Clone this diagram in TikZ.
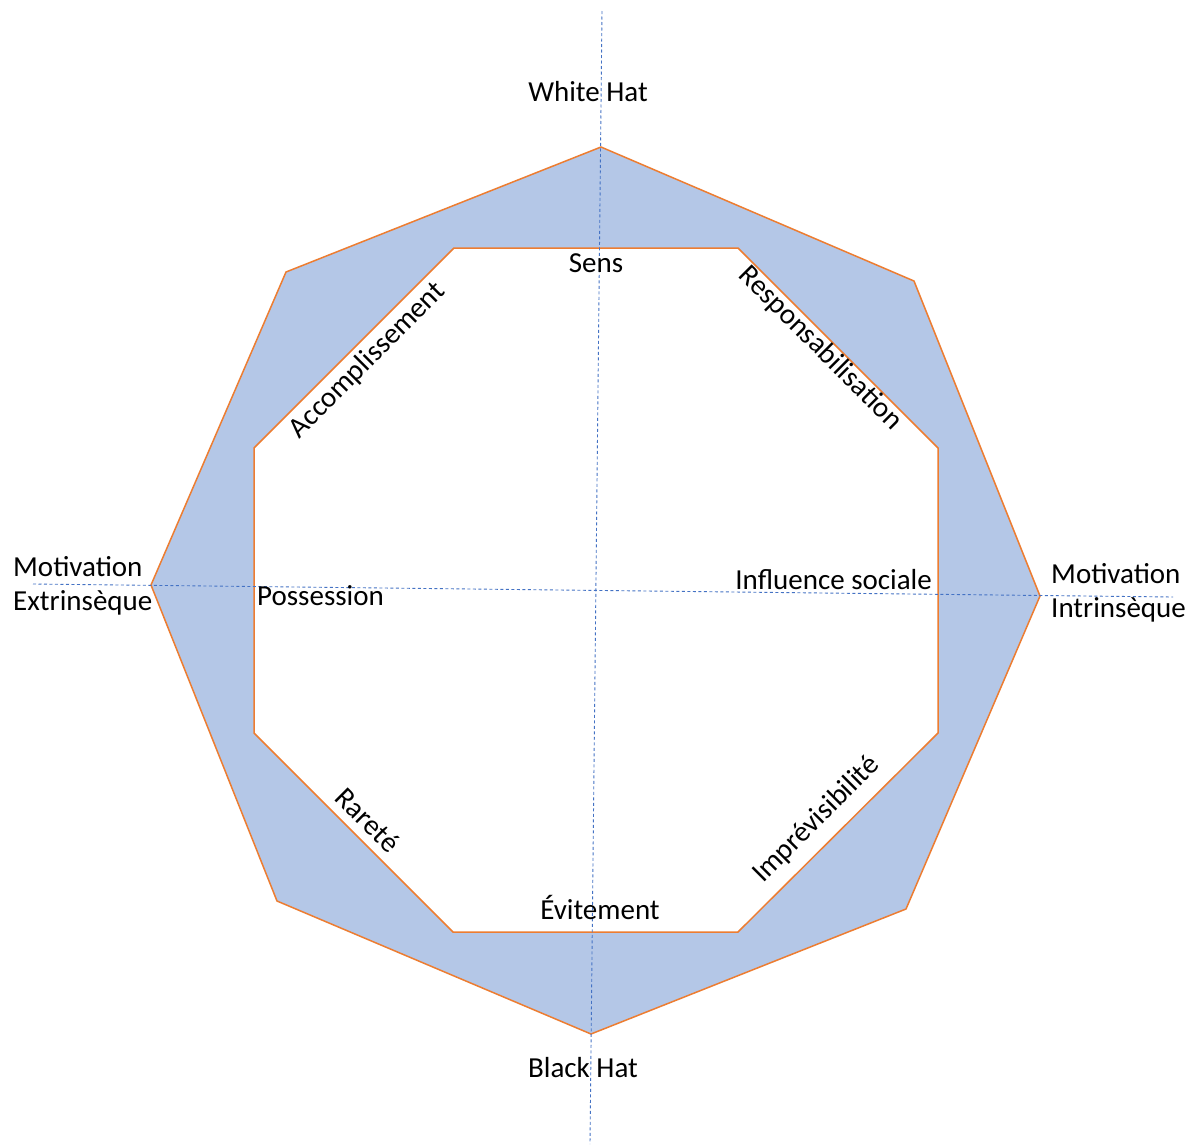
\documentclass[tikz,border=0pt]{standalone}
\usepackage{fontspec}
\setmainfont{Carlito}
\begin{document}
\begin{tikzpicture}[x=1pt,y=-1pt,
  lbl/.style={inner sep=0pt,font=\fontsize{29}{35}\selectfont},
  axisline/.style={draw={rgb,255:red,68;green,114;blue,196},line width=0.9pt,dash pattern=on 3pt off 2.5pt},
  octa/.style={draw={rgb,255:red,237;green,125;blue,49},line width=1.5pt,line join=miter}]
\useasboundingbox (0,0) rectangle (1200,1144);
\fill[white] (0,0) rectangle (1200,1144);
% outer octagon
\path[octa,fill={rgb,255:red,180;green,199;blue,231}]
  (601,147) -- (914,281) -- (1040,596) -- (906,909) -- (591,1034) -- (277,901) -- (151,585) -- (286,272) -- cycle;
% inner octagon
\path[octa,fill=white]
  (454,248) -- (738,248) -- (938,448) -- (938,733) -- (738,932) -- (453,932) -- (254,733) -- (254,448) -- cycle;
% axes
\coordinate (vtop) at (602,11);
\coordinate (vbot) at (590,1144);
\coordinate (hleft) at (33,584);
\coordinate (hright) at (1173,597);
\draw[axisline] (vtop) -- (vbot);
\draw[axisline] (hleft) -- (hright);
% labels
\node[lbl,anchor=base] (white) at (588,101) {White Hat};
\node[lbl,anchor=base] (black) at (583,1077) {Black Hat};
\node[lbl,anchor=base] (sens) at (596,272) {Sens};
\node[lbl,anchor=base] (evit) at (600,919) {Évitement};
\node[lbl,anchor=base west] (motl) at (13,576) {Motivation};
\node[lbl,anchor=base west] (extr) at (13,610) {Extrinsèque};
\node[lbl,anchor=base west] (motr) at (1051,583) {Motivation};
\node[lbl,anchor=base west] (intr) at (1051,617) {Intrinsèque};
\node[lbl,anchor=base west] (poss) at (257,605) {Possession};
\node[lbl,anchor=base east] (infl) at (932,589) {Influence sociale};
\node[lbl,anchor=base,rotate=45] (accomp) at (373,366) {Accomplissement};
\node[lbl,anchor=base,rotate=-45] (resp) at (815,354) {Responsabilisation};
\node[lbl,anchor=base,rotate=-45] (rarete) at (361,827) {Rareté};
\node[lbl,anchor=base,rotate=45] (impr) at (822,825) {Imprévisibilité};
\end{tikzpicture}
\end{document}
